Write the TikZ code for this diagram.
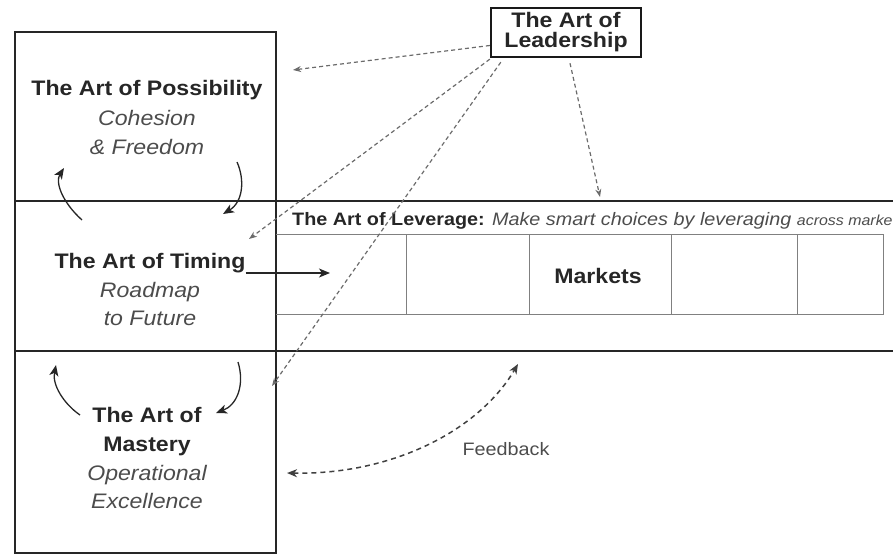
\documentclass[tikz,border=0pt]{standalone}
\usepackage{fontspec}
\setmainfont[FakeStretch=1.1]{Liberation Sans}
\usetikzlibrary{arrows.meta}

\tikzset{
  frame/.style={draw=black!85,line width=1.8pt},
  cell/.style={draw=black!50,line width=0.9pt},
  title/.style={anchor=base,inner sep=0pt,text=black!85,font=\fontsize{21}{21}\selectfont\bfseries},
  sub/.style={anchor=base,inner sep=0pt,text=black!70,font=\fontsize{21}{21}\selectfont\itshape},
  leadarrow/.style={draw=black!58,line width=1.2pt,dash pattern=on 4pt off 3pt,-{Stealth[length=8pt,width=6pt]}},
  cyclearrow/.style={draw=black!85,line width=1.3pt,-{Stealth[length=11pt,width=9pt,inset=3pt]}},
}

\begin{document}
\begin{tikzpicture}[x=1pt,y=-1pt]
  \useasboundingbox (0,0) rectangle (893,554);
  \clip (0,0) rectangle (893,554);

  % left column and the two bands
  \draw[frame] (15,32) rectangle (276,553);
  \draw[frame] (15,201) -- (893,201);
  \draw[frame] (15,351) -- (893,351);

  % markets row
  \draw[cell] (276,234) -- (883,234) -- (883,314) -- (276,314);
  \foreach \x in {406,529,671,797} {
    \draw[cell] (\x,234) -- (\x,314);
  }
  \node[title] (markets) at (598,283) {Markets};
  \node[anchor=base west,inner sep=0pt,text=black!85,font=\fontsize{18}{18}\selectfont] (leverage) at (292,225)
    {\textbf{The Art of Leverage:} \textit{\color{black!70}Make smart choices by leveraging} {\fontsize{14.5}{14.5}\selectfont\itshape\color{black!70}across markets}};

  % the three arts
  \node[title] (poss) at (147,95) {The Art of Possibility};
  \node[sub] (poss-a) at (147,125) {Cohesion};
  \node[sub] (poss-b) at (147,154) {\& Freedom};

  \node[title] (time) at (150,268) {The Art of Timing};
  \node[sub] (time-a) at (150,297) {Roadmap};
  \node[sub] (time-b) at (150,325) {to Future};

  \node[title] (mast) at (147,422) {The Art of};
  \node[title] (mast-a) at (147,451) {Mastery};
  \node[sub] (mast-b) at (147,480) {Operational};
  \node[sub] (mast-c) at (147,508) {Excellence};

  % leadership
  \node[draw=black!90,line width=2.4pt,minimum width=150pt,minimum height=49pt,align=center,
        inner sep=0pt,text=black!85,font=\fontsize{21}{20}\selectfont\bfseries] (lead) at (566,32.5)
    {The Art of\\Leadership};

  \coordinate (poss-tip) at (293,70);
  \coordinate (time-tip) at (249,239);
  \coordinate (mast-tip) at (272,386);
  \coordinate (lev-tip) at (600,197);
  \draw[leadarrow] ([yshift=-13pt]lead.west) -- (poss-tip);
  \draw[leadarrow] ([yshift=-1pt]lead.south west) -- (time-tip);
  \draw[leadarrow] ([xshift=11pt,yshift=-4pt]lead.south west) -- (mast-tip);
  \draw[leadarrow] ([xshift=4pt,yshift=-5pt]lead.south) -- (lev-tip);

  % timing into markets
  \coordinate (time-end) at (330,273);
  \draw[draw=black!85,line width=1.5pt,-{Stealth[length=11pt,width=9pt,inset=3pt]}]
    ([yshift=-5pt]time.base east) -- (time-end);

  % cycles between the arts
  \coordinate (c1) at (82,220);  \coordinate (c2) at (64,168);
  \coordinate (c3) at (237,162); \coordinate (c4) at (223,214);
  \coordinate (c5) at (80,415);  \coordinate (c6) at (56,365);
  \coordinate (c7) at (238,362); \coordinate (c8) at (216,413);
  \draw[cyclearrow] (c1) .. controls (62,202) and (55,182) .. (c2);
  \draw[cyclearrow] (c3) .. controls (245,180) and (243,202) .. (c4);
  \draw[cyclearrow] (c5) .. controls (64,404) and (52,385) .. (c6);
  \draw[cyclearrow] (c7) .. controls (245,385) and (237,405) .. (c8);

  % feedback
  \coordinate (fb-a) at (287,473);
  \coordinate (fb-b) at (518,364);
  \draw[draw=black!75,line width=1.5pt,dash pattern=on 5pt off 4pt,
        {Stealth[length=10pt,width=8pt,inset=3pt]}-{Stealth[length=10pt,width=8pt,inset=3pt]}]
    (fb-a) .. controls (390,475) and (478,432) .. (fb-b);
  \node[anchor=base,inner sep=0pt,text=black!70,font=\fontsize{18}{18}\selectfont] (feedback) at (506,455) {Feedback};
\end{tikzpicture}
\end{document}
